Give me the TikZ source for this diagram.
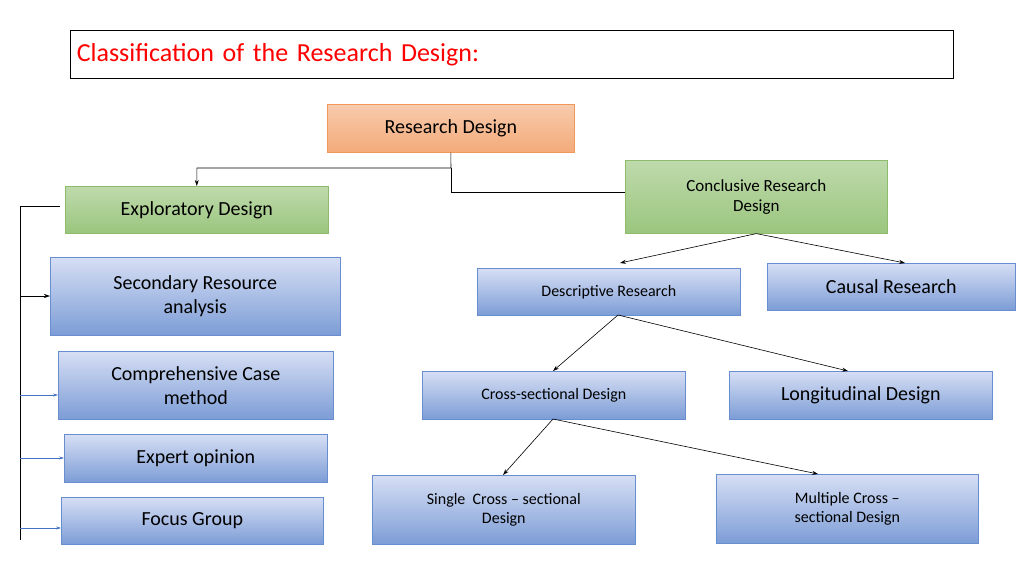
\documentclass[tikz,border=0pt]{standalone}
\usepackage{fontspec}
\setmainfont{Carlito}
\usetikzlibrary{arrows.meta}
\definecolor{bluebd}{HTML}{4472C4}
\definecolor{greenbd}{HTML}{70AD47}
\definecolor{orbd}{HTML}{ED7D31}
\begin{document}
\begin{tikzpicture}[x=1pt,y=-1pt,
 box/.style={draw, line width=0.6pt, align=center, inner sep=0pt},
 bluebox/.style={box, draw=bluebd!80, top color=blue!10!white!60!bluebd!45, bottom color=bluebd!70!white, text=black},
 greenbox/.style={box, draw=greenbd!80, top color=greenbd!45!white, bottom color=greenbd!70!white},
 orbox/.style={box, draw=orbd!80, top color=orbd!40!white, bottom color=orbd!65!white},
 conn/.style={-{Stealth[length=6pt,width=4pt]}, line width=0.6pt},
 bconn/.style={-{Stealth[length=5pt,width=3pt]}, line width=0.5pt, draw=bluebd}]
\useasboundingbox (0,0) rectangle (1024,575);
\node[box, draw=black, minimum width=883pt, minimum height=48pt, anchor=north west, text=red, font=\fontsize{26}{30}\selectfont, align=left, text width=870pt] (title) at (70,30) {Classification of the Research Design:};
\newcommand{\bx}[6]{\node[#1, minimum width=#4pt, minimum height=#5pt, anchor=north west, font=\fontsize{#6}{1.2\dimexpr#6pt\relax}\selectfont] (#2) at #3}
\bx{orbox}{rd}{(327,104)}{247}{48}{20}{Research Design};
\bx{greenbox}{exp}{(65,186)}{263}{47}{20}{Exploratory Design};
\bx{greenbox}{con}{(625,160)}{262}{73}{17}{Conclusive Research\\Design};
\bx{bluebox}{sec}{(50,257)}{290}{78}{20}{Secondary Resource\\analysis};
\bx{bluebox}{comp}{(58,351)}{275}{68}{20}{Comprehensive Case\\method};
\bx{bluebox}{expo}{(64,434)}{263}{48}{20}{Expert opinion};
\bx{bluebox}{focus}{(61,497)}{262}{47}{20}{Focus Group};
\bx{bluebox}{desc}{(477,268)}{263}{47}{16}{Descriptive Research};
\bx{bluebox}{caus}{(767,263)}{248}{47}{20}{Causal Research};
\bx{bluebox}{cross}{(422,371)}{263}{48}{16}{Cross-sectional Design};
\bx{bluebox}{long}{(729,371)}{263}{48}{20}{Longitudinal Design};
\bx{bluebox}{single}{(372,475)}{263}{69}{16}{Single\ \ Cross – sectional\\Design};
\bx{bluebox}{multi}{(716,474)}{262}{69}{16}{Multiple Cross –\\sectional Design};
\coordinate (j1) at (451,168);
\draw[conn] (rd.south) -- (j1) -| (exp.north);
\draw[line width=0.6pt] (j1) |- (con.west |- 0,192);
\draw[conn] (con.south) -- (620,263);
\draw[conn] (con.south) -- (905,263);
\draw[conn] (618,315) -- (553,371);
\draw[conn] (618,315) -- (848,371);
\draw[conn] (553,419) -- (503,475);
\draw[conn] (553,419) -- (818,474);
\coordinate (l0) at (60,206);
\coordinate (lb) at (20,540);
\draw[line width=0.6pt] (l0) -- (20,206) -- (lb);
\draw[conn] (20,296) -- (sec.west |- 0,296);
\draw[bconn] (20,395) -- (comp.west |- 0,395);
\draw[bconn] (20,458) -- (expo.west |- 0,458);
\draw[bconn] (20,528) -- (focus.west |- 0,528);
\end{tikzpicture}
\end{document}
